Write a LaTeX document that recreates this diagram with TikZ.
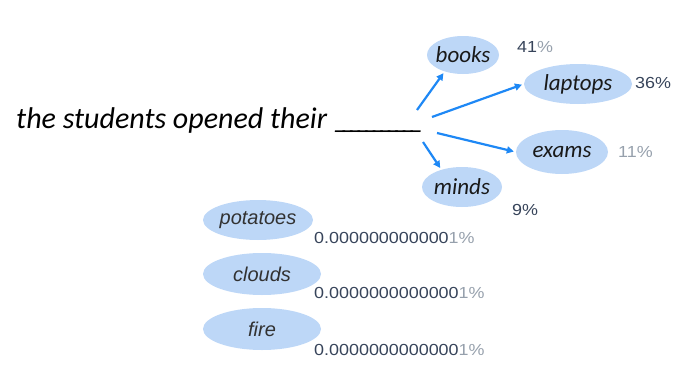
\documentclass[tikz,border=0pt]{standalone}
\usepackage{fontspec}
\setmainfont{Carlito}
\newfontfamily\arialfont{Liberation Sans}
\newfontfamily\pctfont[FakeStretch=1.12]{Liberation Sans}
\usetikzlibrary{shapes.geometric,arrows.meta}
\definecolor{ellfill}{RGB}{189,215,247}
\definecolor{arrblue}{RGB}{30,136,245}
\definecolor{pctdark}{RGB}{55,68,90}
\definecolor{pctlight}{RGB}{150,160,172}
\definecolor{worddark}{RGB}{25,25,25}
\definecolor{wordgray}{RGB}{50,50,50}
\newcommand{\blankus}{\_\kern-7.4pt}
\tikzset{
  ell/.style={ellipse, fill=ellfill, draw=none, inner sep=0pt},
  wordA/.style={font=\fontsize{23}{25}\selectfont\itshape, text=worddark, inner sep=0pt},
  wordB/.style={font=\arialfont\fontsize{20}{22}\selectfont\itshape, text=wordgray, inner sep=0pt},
  pct/.style={font=\pctfont\fontsize{16}{18}\selectfont, text=pctdark, anchor=base west, inner sep=0pt},
  arr/.style={-{Triangle[length=7pt,width=7pt]}, line width=2.2pt, arrblue, shorten >=2pt}
}
\begin{document}
\begin{tikzpicture}[x=1pt,y=-1pt]
\useasboundingbox (0,0) rectangle (683,375);
% sentence
\node[anchor=base west, inner sep=0pt, font=\fontsize{30}{32}\selectfont\itshape, text=black] (sent) at (16,128) {the students opened their \blankus\blankus\blankus\blankus\blankus\blankus\blankus\blankus\blankus\blankus\_};
% likely words
\node[ell, minimum width=72pt, minimum height=38pt] (books) at (463,55) {};
\node[wordA] (booksT) at (books) {books};
\node[ell, minimum width=108pt, minimum height=40pt] (laptops) at (578,84) {};
\node[wordA] (laptopsT) at (laptops) {laptops};
\node[ell, minimum width=92pt, minimum height=44pt] (exams) at (562,152) {};
\node[wordA] (examsT) at (exams) {exams};
\node[ell, minimum width=80pt, minimum height=40pt] (minds) at (462,187) {};
\node[wordA] (mindsT) at (minds) {minds};
% unlikely words
\node[ell, minimum width=110pt, minimum height=40pt] (potatoes) at (258,220) {};
\node[wordB] (potatoesT) at (potatoes) {potatoes};
\node[ell, minimum width=118pt, minimum height=42pt] (clouds) at (262,274) {};
\node[wordB] (cloudsT) at (clouds) {clouds};
\node[ell, minimum width=118pt, minimum height=42pt] (fire) at (262,329) {};
\node[wordB] (fireT) at (fire) {fire};
% percentages
\node[pct] (p1) at (517,52) {41\textcolor{pctlight}{\%}};
\node[pct] (p2) at (635,88) {36\%};
\node[pct, text=pctlight] (p3) at (618,157) {11\%};
\node[pct] (p4) at (512,215) {9\%};
\node[pct] (p5) at (314,243) {0.000000000000\textcolor{pctlight}{1\%}};
\node[pct] (p6) at (314,298) {0.0000000000000\textcolor{pctlight}{1\%}};
\node[pct] (p7) at (314,355) {0.0000000000000\textcolor{pctlight}{1\%}};
% arrows
\coordinate (s1) at (417,110);
\coordinate (s2) at (432,117);
\coordinate (s3) at (437,133);
\coordinate (s4) at (423,142);
\draw[arr] (s1) -- (books.222);
\draw[arr] (s2) -- (laptops.west);
\draw[arr] (s3) -- (exams.west);
\draw[arr] (s4) -- (minds.140);
\end{tikzpicture}
\end{document}
